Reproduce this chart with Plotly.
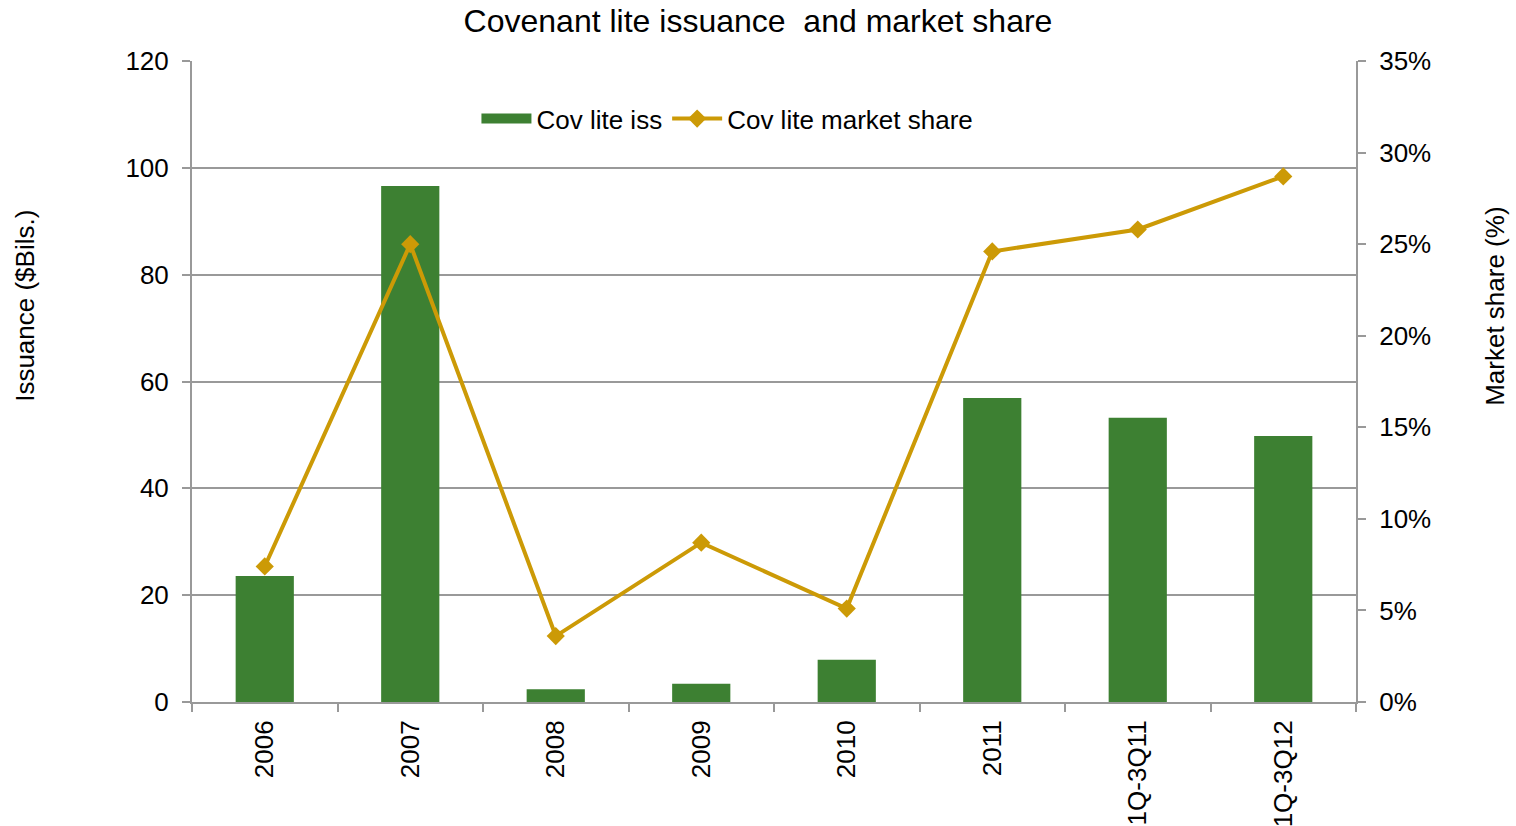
import plotly.graph_objects as go

categories = ["2006", "2007", "2008", "2009", "2010", "2011", "1Q-3Q11", "1Q-3Q12"]
issuance = [23.6, 96.6, 2.4, 3.4, 7.9, 56.9, 53.2, 49.8]
market_share = [0.074, 0.250, 0.036, 0.087, 0.051, 0.246, 0.258, 0.287]

bar_color = "#3D8032"
line_color = "#CC9A06"
axis_color = "#999999"
font_family = "Liberation Sans, Arial, sans-serif"

fig = go.Figure()
fig.add_trace(go.Bar(
    x=categories, y=issuance, name="Cov lite iss", showlegend=False,
    marker=dict(color=bar_color, line=dict(width=0)),
))
# wide flat swatch for the bar series in the legend
fig.add_trace(go.Scatter(
    x=[None], y=[None], name="Cov lite iss", mode="lines",
    line=dict(color=bar_color, width=14),
))
fig.add_trace(go.Scatter(
    x=categories, y=market_share, name="Cov lite market share", yaxis="y2",
    mode="lines+markers",
    line=dict(color=line_color, width=4),
    marker=dict(symbol="diamond", size=14, color=line_color),
))

fig.update_layout(
    width=1516, height=826,
    margin=dict(l=192, r=160, t=61, b=124, autoexpand=False),
    paper_bgcolor="white", plot_bgcolor="white",
    font=dict(family=font_family, size=26, color="black"),
    title=dict(text="Covenant lite issuance  and market share", x=0.5, xanchor="center",
               y=0.975, yanchor="middle", font=dict(size=32)),
    bargap=0.6,
    showlegend=True,
    legend=dict(orientation="h", x=0.46, xanchor="center", y=0.91, yanchor="middle",
                font=dict(size=26), bgcolor="rgba(0,0,0,0)", itemwidth=50,
                tracegroupgap=0),
    xaxis=dict(
        type="category", showgrid=False, tickson="boundaries", automargin=False,
        ticks="outside", ticklen=8, tickcolor=axis_color, tickwidth=2,
        showline=True, linecolor=axis_color, linewidth=2,
        tickangle=-90, tickfont=dict(size=26), ticklabelstandoff=6,
    ),
    yaxis=dict(
        range=[0, 120], dtick=20, showgrid=True, gridcolor=axis_color, gridwidth=1.5,
        ticks="outside", ticklen=8, tickcolor=axis_color, tickwidth=2,
        showline=True, linecolor=axis_color, linewidth=2, automargin=False,
        zeroline=False, ticklabelstandoff=8,
    ),
    yaxis2=dict(
        overlaying="y", side="right", range=[0, 0.35], dtick=0.05, tickformat=".0%",
        showgrid=False, ticks="outside", ticklen=8, tickcolor=axis_color, tickwidth=2,
        showline=True, linecolor=axis_color, linewidth=2, zeroline=False,
        ticklabelstandoff=8, automargin=False,
    ),
    annotations=[
        dict(text="Issuance ($Bils.)", textangle=-90, xref="paper", yref="paper",
             x=-0.1435, y=0.618, xanchor="center", yanchor="middle", showarrow=False,
             font=dict(size=26)),
        dict(text="Market share (%)", textangle=-90, xref="paper", yref="paper",
             x=1.1194, y=0.618, xanchor="center", yanchor="middle", showarrow=False,
             font=dict(size=26)),
    ],
)

fig.write_html("out.html")
